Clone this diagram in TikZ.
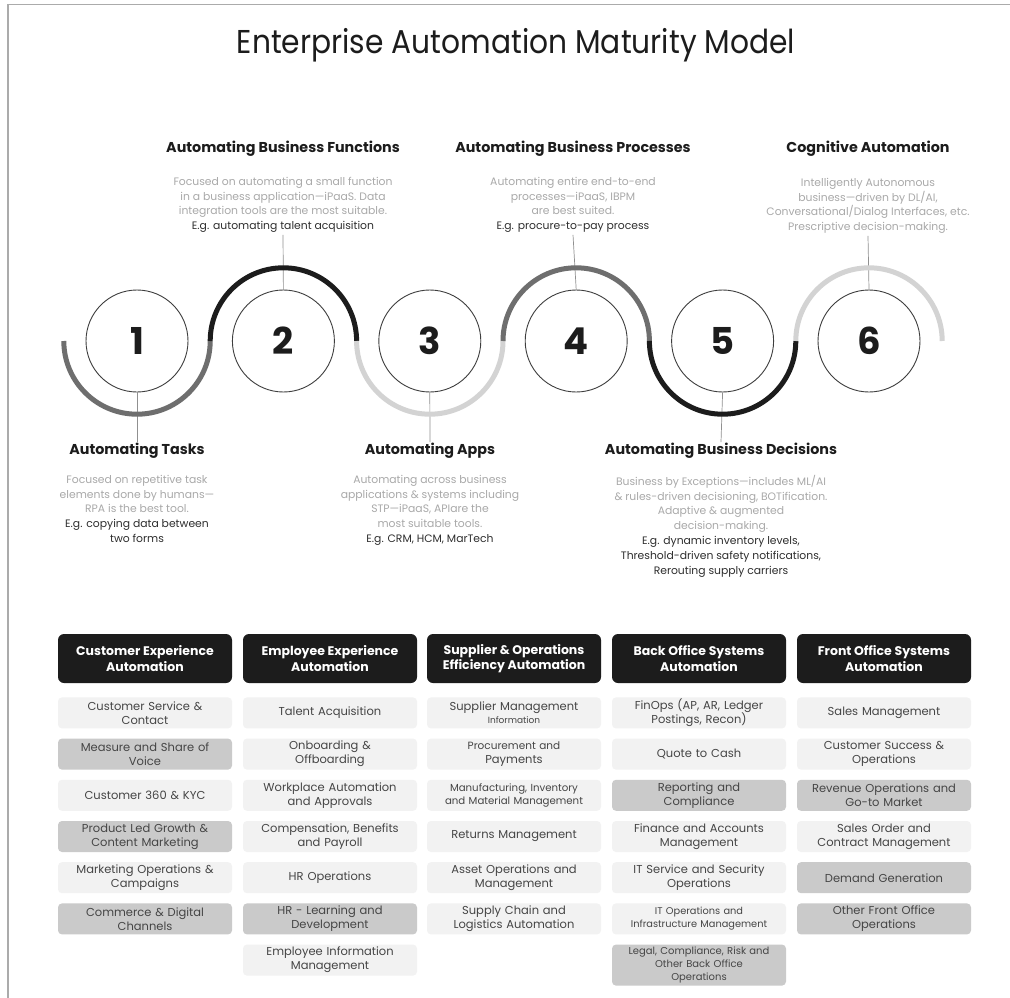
\documentclass[tikz,border=0pt]{standalone}
\usepackage{fontspec}
\setmainfont{Poppins}
\usepackage{xcolor}
\usetikzlibrary{positioning,calc}

\definecolor{inkblack}{HTML}{1C1C1C}
\definecolor{arcmid}{HTML}{6E6E6E}
\definecolor{arclight}{HTML}{D3D3D3}
\definecolor{descgray}{HTML}{A9A9A9}
\definecolor{exdark}{HTML}{2E2E2E}
\definecolor{celllight}{HTML}{F2F2F2}
\definecolor{celldark}{HTML}{CACACA}
\definecolor{celltext}{HTML}{454545}
\definecolor{framegray}{HTML}{ABABAB}

\tikzset{
  stagecircle/.style={circle, draw=inkblack!85, line width=0.9pt, minimum size=102pt,
    inner sep=0pt, text=inkblack, font=\fontsize{37}{37}\selectfont\bfseries},
  stagetitle/.style={inner sep=1pt, text=inkblack, font=\fontsize{14.3}{16}\selectfont\bfseries},
  stagedesc/.style={align=center, inner sep=2pt, text=descgray, font=\fontsize{10.8}{14.8}\selectfont},
  wave/.style={line width=5pt},
  leader/.style={draw=descgray!85!black, line width=0.7pt},
  colhead/.style={rounded corners=6pt, fill=inkblack, text=white, minimum width=174pt,
    minimum height=49pt, align=center, font=\fontsize{12.5}{15.5}\selectfont\bfseries},
  cell/.style={rounded corners=4pt, fill=celllight, text=celltext, minimum height=31pt,
    text width=168pt, inner xsep=3pt, inner ysep=1pt, align=center,
    font=\fontsize{11.5}{14}\selectfont},
  cellhi/.style={cell, fill=celldark},
}

\begin{document}
\begin{tikzpicture}[x=1pt,y=-1pt]
\useasboundingbox (0,0) rectangle (1010,998);
\fill[white] (0,0) rectangle (1010,998);
\draw[framegray, line width=1.6pt] (8,998) -- (8,4.5) -- (1010,4.5);

\node[text=inkblack, font=\fontsize{33}{36}\selectfont] (title) at (516,45)
  {\scalebox{0.9}[1]{Enterprise Automation Maturity Model}};

% numbered steps
\foreach \n in {1,...,6}{
  \pgfmathsetmacro{\cx}{137+146.4*(\n-1)}
  \node[stagecircle] (c\n) at (\cx,341) {\n};
}

% stage texts, odd ones below and even ones above
\node[stagetitle] (s1) at (137,451) {Automating Tasks};
\node[stagedesc, below=13pt of s1] (d1) {Focused on repetitive task\\
  elements done by humans—\\ RPA is the best tool.\\
  \textcolor{exdark}{E.g. copying data between}\\ \textcolor{exdark}{two forms}};

\node[stagetitle] (s2) at (283,149) {Automating Business Functions};
\node[stagedesc, below=17pt of s2] (d2) {Focused on automating a small function\\
  in a business application—iPaaS. Data\\ integration tools are the most suitable.\\
  \textcolor{exdark}{E.g. automating talent acquisition}};

\node[stagetitle] (s3) at (430,451) {Automating Apps};
\node[stagedesc, below=13pt of s3] (d3) {Automating across business\\
  applications \& systems including\\ STP—iPaaS, APIare the\\ most suitable tools.\\
  \textcolor{exdark}{E.g. CRM, HCM, MarTech}};

\node[stagetitle] (s4) at (573,149) {Automating Business Processes};
\node[stagedesc, below=17pt of s4] (d4) {Automating entire end-to-end\\
  processes—iPaaS, IBPM\\ are best suited.\\
  \textcolor{exdark}{E.g. procure-to-pay process}};

\node[stagetitle] (s5) at (721,451) {Automating Business Decisions};
\node[stagedesc, below=13pt of s5] (d5) {Business by Exceptions—includes ML/AI\\
  \& rules-driven decisioning, BOTification.\\ Adaptive \& augmented\\ decision-making.\\
  \textcolor{exdark}{E.g. dynamic inventory levels,}\\
  \textcolor{exdark}{Threshold-driven safety notifications,}\\
  \textcolor{exdark}{Rerouting supply carriers}};

\node[stagetitle] (s6) at (868,149) {Cognitive Automation};
\node[stagedesc, below=18pt of s6] (d6) {Intelligently Autonomous\\
  business—driven by DL/AI,\\ Conversational/Dialog Interfaces, etc.\\
  Prescriptive decision-making.};

% leaders
\foreach \n in {1,3,5}
  \draw[leader] (c\n.south) -- (s\n.north);
\foreach \n in {2,4,6}
  \draw[leader] (c\n.north) -- (d\n.south);

% the wave
\foreach \n/\a/\b/\col in {1/180/360/arcmid, 2/180/0/inkblack, 3/180/360/arclight,
                           4/180/0/arcmid, 5/180/360/inkblack, 6/180/0/arclight}
  \draw[wave, \col] (c\n.center) ++(-73.2pt,0) arc[start angle=\a, end angle=\b, radius=73.2pt];

% column headers
\node[colhead] (h1) at (145,658.5) {Customer Experience\\ Automation};
\node[colhead] (h2) at (330,658.5) {Employee Experience\\ Automation};
\node[colhead] (h3) at (514,658.5) {Supplier \& Operations\\ Efficiency Automation};
\node[colhead] (h4) at (699,658.5) {Back Office Systems\\ Automation};
\node[colhead] (h5) at (884,658.5) {Front Office Systems\\ Automation};

% customer experience
\node[cell, below=14pt of h1] (h1-1) {Customer Service \&\\ Contact};
\node[cellhi, below=9.8pt of h1-1] (h1-2) {Measure and Share of\\ Voice};
\node[cell, below=9.8pt of h1-2] (h1-3) {Customer 360 \& KYC};
\node[cellhi, below=9.8pt of h1-3] (h1-4) {Product Led Growth \&\\ Content Marketing};
\node[cell, below=9.8pt of h1-4] (h1-5) {Marketing Operations \&\\ Campaigns};
\node[cellhi, below=9.8pt of h1-5] (h1-6) {Commerce \& Digital\\ Channels};

% employee experience
\node[cell, below=14pt of h2] (h2-1) {Talent Acquisition};
\node[cell, below=9.8pt of h2-1] (h2-2) {Onboarding \&\\ Offboarding};
\node[cell, below=9.8pt of h2-2] (h2-3) {Workplace Automation\\ and Approvals};
\node[cell, below=9.8pt of h2-3] (h2-4) {Compensation, Benefits\\ and Payroll};
\node[cell, below=9.8pt of h2-4] (h2-5) {HR Operations};
\node[cellhi, below=9.8pt of h2-5] (h2-6) {HR - Learning and\\ Development};
\node[cell, below=9.8pt of h2-6] (h2-7) {Employee Information\\ Management};

% supplier and operations
\node[cell, below=14pt of h3, font=\fontsize{11.5}{13}\selectfont] (h3-1) {Supplier Management\\ {\fontsize{9}{11}\selectfont Information}};
\node[cell, below=9.8pt of h3-1, font=\fontsize{10.5}{14}\selectfont] (h3-2) {Procurement and\\ {\fontsize{11.5}{14}\selectfont Payments}};
\node[cell, below=9.8pt of h3-2, font=\fontsize{10.2}{13}\selectfont] (h3-3) {Manufacturing, Inventory\\ and Material Management};
\node[cell, below=9.8pt of h3-3] (h3-4) {Returns Management};
\node[cell, below=9.8pt of h3-4] (h3-5) {Asset Operations and\\ Management};
\node[cell, below=9.8pt of h3-5] (h3-6) {Supply Chain and\\ Logistics Automation};

% back office
\node[cell, below=14pt of h4] (h4-1) {FinOps (AP, AR, Ledger\\ Postings, Recon)};
\node[cell, below=9.8pt of h4-1] (h4-2) {Quote to Cash};
\node[cellhi, below=9.8pt of h4-2] (h4-3) {Reporting and\\ Compliance};
\node[cell, below=9.8pt of h4-3] (h4-4) {Finance and Accounts\\ Management};
\node[cell, below=9.8pt of h4-4] (h4-5) {IT Service and Security\\ Operations};
\node[cell, below=9.8pt of h4-5, font=\fontsize{9.8}{13}\selectfont] (h4-6) {IT Operations and\\ Infrastructure Management};
\node[cellhi, below=9.8pt of h4-6, minimum height=41pt, font=\fontsize{10}{12.8}\selectfont] (h4-7) {Legal, Compliance, Risk and\\ Other Back Office\\ Operations};

% front office
\node[cell, below=14pt of h5] (h5-1) {Sales Management};
\node[cell, below=9.8pt of h5-1] (h5-2) {Customer Success \&\\ Operations};
\node[cellhi, below=9.8pt of h5-2] (h5-3) {Revenue Operations and\\ Go-to Market};
\node[cell, below=9.8pt of h5-3] (h5-4) {Sales Order and\\ Contract Management};
\node[cellhi, below=9.8pt of h5-4] (h5-5) {Demand Generation};
\node[cellhi, below=9.8pt of h5-5] (h5-6) {Other Front Office\\ Operations};
\end{tikzpicture}
\end{document}
